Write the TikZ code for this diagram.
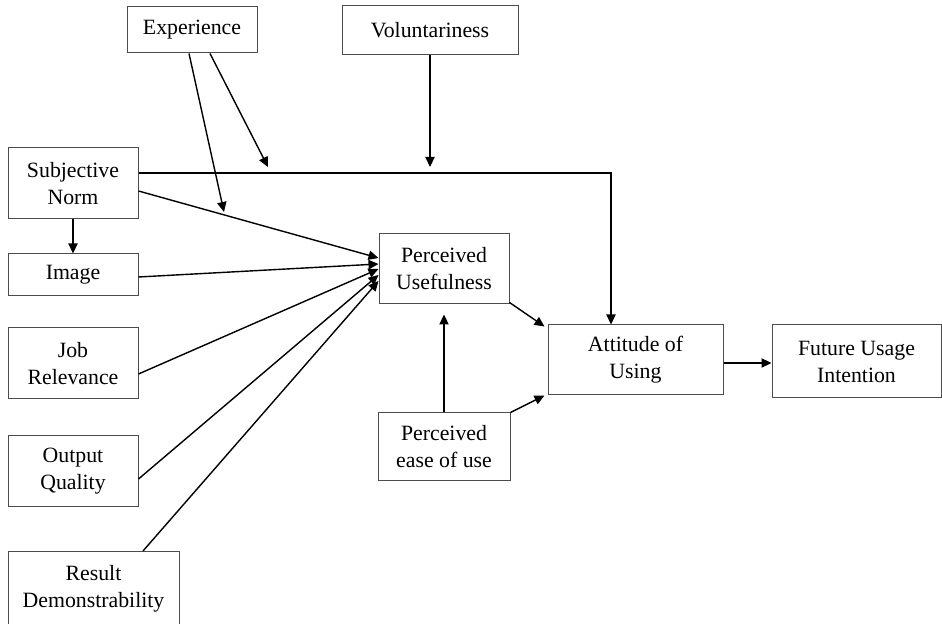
\documentclass[tikz,border=0pt]{standalone}
\usepackage{fontspec}
\setmainfont{Liberation Serif}
\usetikzlibrary{arrows.meta}

\tikzset{
  box/.style={draw=black!70, line width=0.5pt, align=center, inner sep=0pt,
    font=\fontsize{10.9}{13.5}\selectfont},
  arr/.style={line width=0.7pt, -{Triangle[length=5pt,width=4.6pt]}},
}

\begin{document}
\begin{tikzpicture}[x=0.5pt,y=-0.5pt]
    \clip (0,0) rectangle (942,624);

    % moderators
    \node[box,minimum width=65pt,minimum height=23pt] (exp) at (192,30) {Experience};
    \node[box,minimum width=88pt,minimum height=24.5pt] (vol) at (430,30.5) {Voluntariness};

    % determinants
    \node[box,minimum width=65pt,minimum height=35.5pt] (sn) at (73,183.5) {Subjective\\Norm};
    \node[box,minimum width=65pt,minimum height=21pt] (img) at (73,275) {Image};
    \node[box,minimum width=65pt,minimum height=35.5pt] (jr) at (73,363.5) {Job\\Relevance};
    \node[box,minimum width=65pt,minimum height=35.5pt] (oq) at (73,471.5) {Output\\Quality};
    \node[box,anchor=north,minimum width=85.5pt,minimum height=45pt] (rd) at (93.5,551)
      {Result\\Demonstrability\rule[-10.5pt]{0pt}{10.5pt}};

    % core constructs
    \node[box,minimum width=65pt,minimum height=35pt] (pu) at (444,269) {Perceived\\Usefulness};
    \node[box,minimum width=66pt,minimum height=34pt] (peou) at (444,447) {Perceived\\ease of use};
    \node[box,minimum width=87.5pt,minimum height=35pt] (att) at (635.5,360) {Attitude of\\Using};
    \node[box,minimum width=84.5pt,minimum height=36.5pt] (fui) at (856.5,361.5) {Future Usage\\Intention};

    \coordinate (m1) at (224,212);
    \coordinate (m2) at (268,167);
    \coordinate (m3) at (430,167);

    % into perceived usefulness
    \foreach \src/\ys/\ye in {sn/191/258, img/277/264, jr/374/269, oq/479/275} {
      \draw[arr] (\src.east |- 0,\ys) -- (pu.west |- 0,\ye);
    }
    \draw[arr] (rd.north -| 143,0) -- (pu.west |- 0,281);
    \draw[arr] (sn.south) -- (img.north);

    % moderating effects
    \draw[arr] (exp.south -| 189,0) -- (m1);
    \draw[arr] (exp.south -| 210,0) -- (m2);
    \draw[arr] (vol.south) -- (m3);
    \draw[arr] (sn.east |- 0,173) -| (att.north -| 611,0);

    % attitude and intention
    \draw[arr] (peou.north) -- ([yshift=-5pt]pu.south);
    \draw[arr] ([yshift=1pt]pu.south east) -- ([shift={(-3,2)}]att.north west);
    \draw[arr] (peou.north east) -- ([xshift=-1.5pt]att.south west);
    \draw[arr] (att.east |- 0,363) -- (fui.west |- 0,363);
\end{tikzpicture}
\end{document}
